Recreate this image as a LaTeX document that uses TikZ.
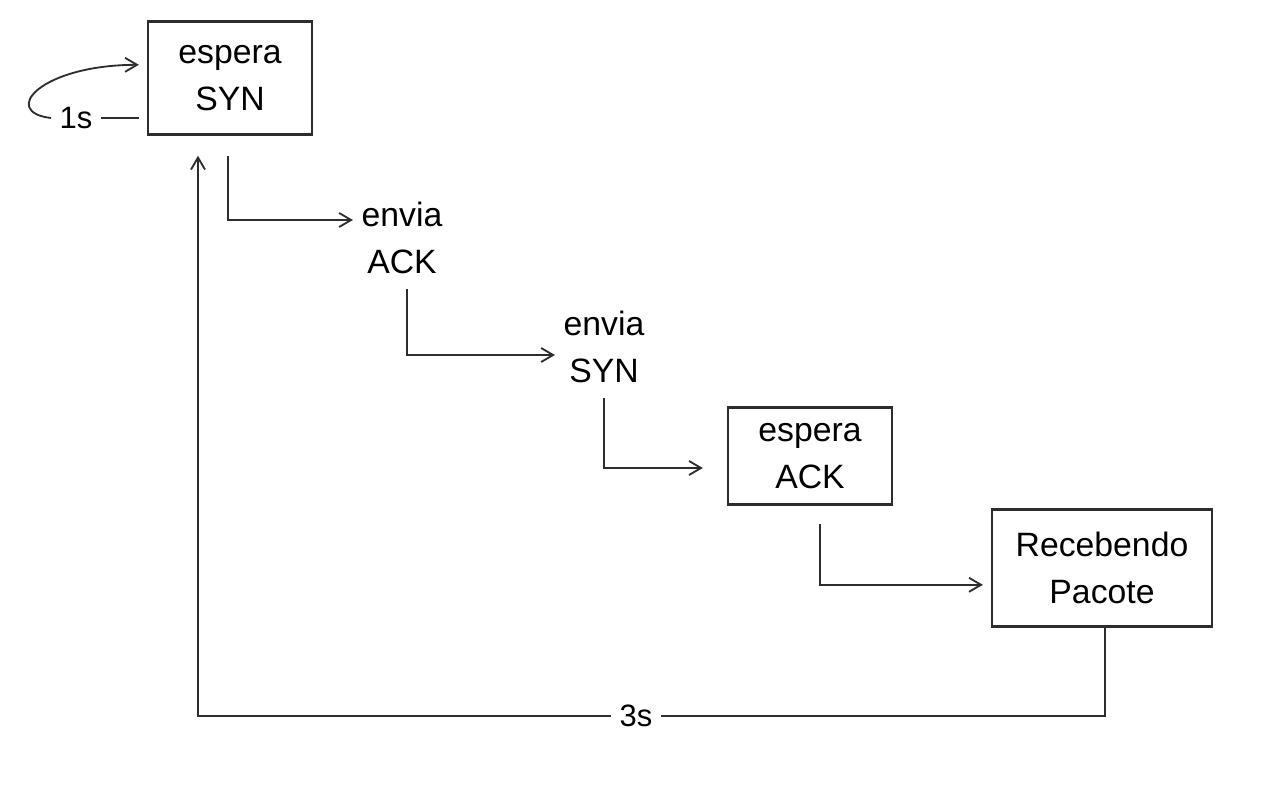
\documentclass[tikz,border=0pt]{standalone}
\usepackage{fontspec}
\setmainfont{Liberation Sans}
\usetikzlibrary{arrows.meta,positioning,calc}
\definecolor{pencil}{RGB}{45,45,45}

\begin{document}
\begin{tikzpicture}[
    x=0.025cm, y=-0.025cm,
    state/.style={rectangle, draw=pencil, line width=1.6pt, align=center, font=\fontsize{24}{34}\selectfont},
    step box/.style={align=center, font=\fontsize{24}{34}\selectfont, inner sep=2pt},
    arrow/.style={->, draw=pencil, line width=1.3pt, >={Straight Barb[length=3mm,width=3.5mm]}},
    line/.style={draw=pencil, line width=1.3pt},
    label/.style={font=\fontsize{22}{26}\selectfont, inner sep=6pt}
]
\useasboundingbox (0,0) rectangle (1280,795);

% Waiting for SYN
\node[state, minimum width=4.1cm, minimum height=2.83cm] (espSyn) at (230,78) {espera\\SYN};

% Send ACK / send SYN
\node[step box] (enviaAck) at (402,238) {envia\\ACK};
\node[step box] (enviaSyn) at (604,347) {envia\\SYN};

% Waiting for ACK
\node[state, minimum width=4.1cm, minimum height=2.43cm] (espAck) at (810,456) {espera\\ACK};

% Receiving packet
\node[state, minimum width=5.5cm, minimum height=2.93cm] (receb) at (1102,568) {Recebendo\\Pacote};

% Timeouts
\node[label] (t1s) at (76,118) {1s};
\node[label] (t3s) at (636,716) {3s};

% Forward steps
\draw[arrow, shorten >=4pt] ([xshift=-0.05cm,yshift=-0.5cm]espSyn.south) |- ([yshift=0.45cm]enviaAck.west);
\draw[arrow, shorten >=4pt] ([xshift=0.12cm,yshift=-0.3cm]enviaAck.south) |- ([yshift=-0.2cm]enviaSyn.west);
\draw[arrow, shorten >=0.6cm] ([yshift=-0.3cm]enviaSyn.south) |- ([yshift=-0.3cm]espAck.west);
\draw[arrow, shorten >=0.2cm] ([xshift=0.25cm,yshift=-0.45cm]espAck.south) |- ([yshift=-0.42cm]receb.west);

% Back to the start after 3s
\draw[line] ([xshift=0.07cm]receb.south) |- (t3s.east);
\draw[arrow] (t3s.west) -| ([xshift=-0.8cm,yshift=-0.5cm]espSyn.south);

% Retry after 1s
\draw[line] ([xshift=-0.2cm]espSyn.west |- t1s) -- (t1s.east);
\draw[arrow] (t1s.west) .. controls (0,112) and (40,65) .. ([xshift=-0.2cm,yshift=0.33cm]espSyn.west);

\end{tikzpicture}
\end{document}
